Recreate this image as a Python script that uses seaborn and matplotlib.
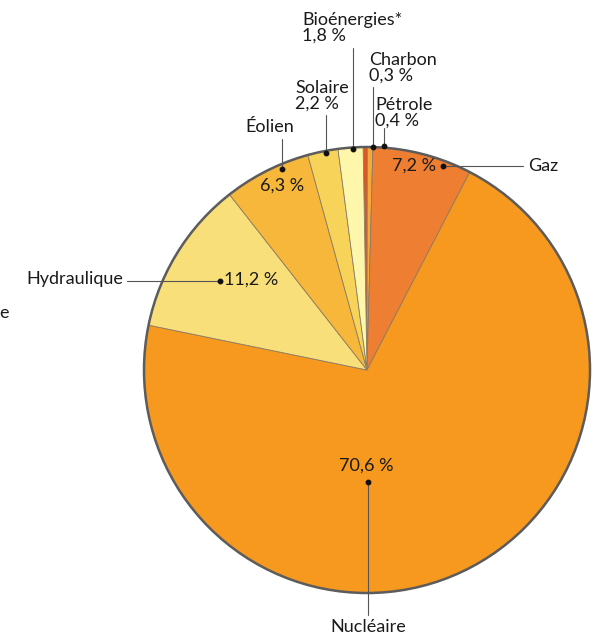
import matplotlib
matplotlib.use("Agg")
import matplotlib.pyplot as plt
import seaborn as sns
from matplotlib.patches import Circle

# Electricity production mix (%), clockwise from the top of the pie
sources = ["Charbon", "Pétrole", "Gaz", "Nucléaire", "Hydraulique", "Éolien", "Solaire", "Bioénergies*"]
shares = [0.3, 0.4, 7.2, 70.6, 11.2, 6.3, 2.2, 1.8]
colors = ["#E2561C", "#F5A93C", "#EE7E31", "#F7981F", "#F9DF7A", "#F6B73A", "#F8D35A", "#FEF6AA"]

W, H = 598, 638
sns.set_theme(style="white")
plt.rcParams["font.family"] = ["Lato", "DejaVu Sans"]

fig = plt.figure(figsize=(W / 100, H / 100), dpi=100)
ax = fig.add_axes([0, 0, 1, 1])

def Y(y):
    return H - y

cx, cy, r = 367, 370, 223
ax.pie(shares, colors=colors, startangle=91, counterclock=False,
       center=(cx, Y(cy)), radius=r, frame=True,
       wedgeprops=dict(edgecolor="#8c7b62", linewidth=0.6))
ax.set_xlim(0, W)
ax.set_ylim(0, H)
ax.set_aspect("equal")
ax.axis("off")
ax.add_patch(Circle((cx, Y(cy)), r, fill=False, edgecolor="#5c5c5c", linewidth=1.8, zorder=5))

txt = dict(color="#1a1a1a", fontsize=13, zorder=10)
line_kw = dict(color="#555555", linewidth=0.8, zorder=8)
dot_kw = dict(color="#111111", markersize=3.2, zorder=9)

def fmt(v):
    return f"{v:.1f}".replace(".", ",") + " %"

val = dict(zip(sources, shares))

# Labels above the pie with vertical leaders
def top_label(name, tx, ty, lx, ly0, ly1):
    ax.text(tx, Y(ty), name + "\n" + fmt(val[name]), ha="left", va="center",
            linespacing=0.95, **txt)
    ax.plot([lx, lx], [Y(ly0), Y(ly1)], **line_kw)
    ax.plot([lx], [Y(ly1)], "o", **dot_kw)

top_label("Bioénergies*", 302, 28, 353, 48, 149)
top_label("Charbon", 369, 68, 373, 87, 147)
top_label("Solaire", 295, 96, 326, 115, 153)
top_label("Pétrole", 375, 113, 384, 128, 146)

# Éolien
ax.text(270, Y(127), "Éolien", ha="center", va="center", **txt)
ax.plot([282, 282], [Y(139), Y(169)], **line_kw)
ax.plot([282], [Y(169)], "o", **dot_kw)
ax.text(282, Y(186), fmt(val["Éolien"]), ha="center", va="center", **txt)

# Gaz
ax.text(436, Y(166), fmt(val["Gaz"]), ha="right", va="center", **txt)
ax.plot([443, 523], [Y(166), Y(166)], **line_kw)
ax.plot([443], [Y(166)], "o", **dot_kw)
ax.text(528, Y(166), "Gaz", ha="left", va="center", **txt)

# Hydraulique
ax.text(123, Y(279), "Hydraulique", ha="right", va="center", **txt)
ax.plot([127, 220], [Y(281), Y(281)], **line_kw)
ax.plot([220], [Y(281)], "o", **dot_kw)
ax.text(224, Y(280), fmt(val["Hydraulique"]), ha="left", va="center", **txt)

# Nucléaire
ax.text(366, Y(466), fmt(val["Nucléaire"]), ha="center", va="center", **txt)
ax.plot([368, 368], [Y(482), Y(615)], **line_kw)
ax.plot([368], [Y(482)], "o", **dot_kw)
ax.text(368, Y(627), "Nucléaire", ha="center", va="center", **txt)

# Partially visible text at the left edge
ax.text(9, Y(313), "e", ha="right", va="center", **txt)

fig.savefig("out.png", dpi=100)
